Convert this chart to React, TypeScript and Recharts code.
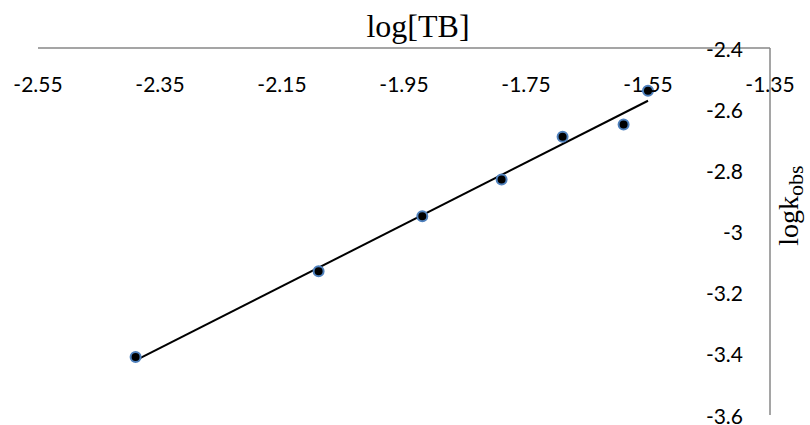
import { ScatterChart, Scatter, XAxis, YAxis } from "recharts";

// measured points: log[TB] vs log k_obs
const logTB = [-2.39, -2.09, -1.92, -1.79, -1.69, -1.59, -1.55];
const logKobs = [-3.41, -3.13, -2.95, -2.83, -2.69, -2.65, -2.54];

const xTicks = [-2.55, -2.35, -2.15, -1.95, -1.75, -1.55, -1.35];
const yTicks = [-3.6, -3.4, -3.2, -3, -2.8, -2.6, -2.4];

const points = logTB.map((x, i) => ({ x, y: logKobs[i] }));

// linear least-squares trendline across the data range (like Excel's)
function trendline() {
  const n = logTB.length;
  const mx = logTB.reduce((a, b) => a + b, 0) / n;
  const my = logKobs.reduce((a, b) => a + b, 0) / n;
  let sxy = 0;
  let sxx = 0;
  for (let i = 0; i < n; i++) {
    sxy += (logTB[i] - mx) * (logKobs[i] - my);
    sxx += (logTB[i] - mx) ** 2;
  }
  const slope = sxy / sxx;
  const xs = [Math.min(...logTB), Math.max(...logTB)];
  return xs.map((x) => ({ x, y: my + slope * (x - mx) }));
}
const trend = trendline();

const tickFont = "Lato, 'Open Sans', sans-serif";
const serif = "'Liberation Serif', 'DejaVu Serif', serif";

const XTick = (props: any) => {
  const { x, y, payload } = props;
  return (
    <text
      x={x}
      y={y + 35}
      textAnchor="middle"
      dominantBaseline="central"
      fontFamily={tickFont}
      fontSize={21}
      fill="#000"
    >
      {String(payload.value)}
    </text>
  );
};

const YTick = (props: any) => {
  const { x, y, payload } = props;
  return (
    <text
      x={x - 27}
      y={y}
      textAnchor="end"
      dominantBaseline="central"
      fontFamily={tickFont}
      fontSize={21}
      fill="#000"
    >
      {String(payload.value)}
    </text>
  );
};

const renderTitle = (props: any) => {
  const vb = props.viewBox || { x: 38, y: 38, width: 732, height: 10 };
  return (
    <text
      x={vb.x + vb.width / 2 + 14}
      y={vb.y - 1}
      textAnchor="middle"
      fontFamily={serif}
      fontSize={32}
      fill="#000"
    >
      log[TB]
    </text>
  );
};

const renderYLabel = (props: any) => {
  const vb = props.viewBox || { x: 770, y: 48, width: 10, height: 367 };
  const cx = vb.x + 28;
  const cy = vb.y + vb.height / 2 - 26;
  return (
    <text
      transform={`translate(${cx}, ${cy}) rotate(-90)`}
      x={0}
      y={0}
      textAnchor="middle"
      fontFamily={serif}
      fontSize={28}
      fill="#000"
    >
      logk
      <tspan fontSize={22} dy={5}>
        obs
      </tspan>
    </text>
  );
};

const Dot = (props: any) => (
  <circle
    cx={props.cx}
    cy={props.cy}
    r={5}
    fill="#000"
    stroke="#4F81BD"
    strokeWidth={2}
  />
);

export default function App() {
  return (
    <div style={{ position: "absolute", left: 0, top: 0, background: "#fff" }}>
      <ScatterChart
        width={810}
        height={425}
        margin={{ top: 38, right: 30, left: 38, bottom: 10 }}
      >
        <XAxis
          type="number"
          dataKey="x"
          orientation="top"
          height={10}
          domain={[-2.55, -1.35]}
          ticks={xTicks}
          allowDataOverflow
          tickSize={0}
          tickMargin={0}
          tickLine={false}
          axisLine={{ stroke: "#878787", strokeWidth: 1.5 }}
          tick={<XTick />}
          interval={0}
          label={{ content: renderTitle }}
        />
        <YAxis
          type="number"
          dataKey="y"
          orientation="right"
          width={10}
          domain={[-3.6, -2.4]}
          ticks={yTicks}
          allowDataOverflow
          tickSize={0}
          tickMargin={0}
          tickLine={false}
          axisLine={{ stroke: "#878787", strokeWidth: 1.5 }}
          tick={<YTick />}
          interval={0}
          label={{ content: renderYLabel }}
        />
        <Scatter
          data={trend}
          line={{ stroke: "#000", strokeWidth: 2 }}
          shape={() => <g />}
          legendType="none"
          isAnimationActive={false}
        />
        <Scatter
          data={points}
          shape={<Dot />}
          isAnimationActive={false}
        />
      </ScatterChart>
    </div>
  );
}
